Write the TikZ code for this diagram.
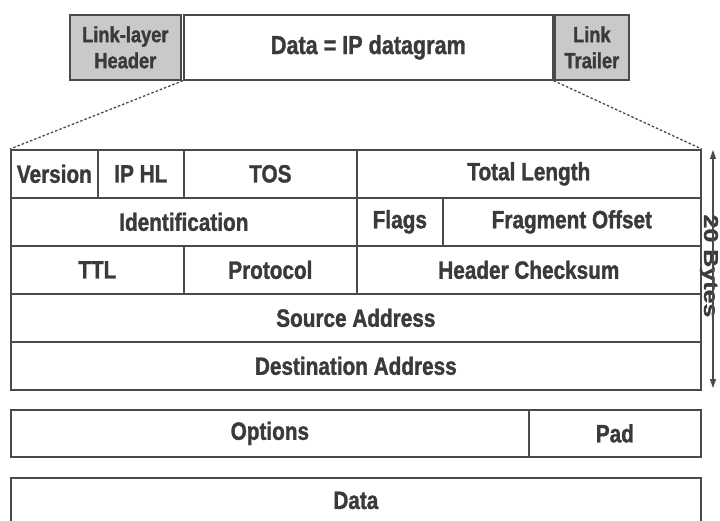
\documentclass[tikz,border=0pt]{standalone}
\usepackage{fontspec}
\setmainfont[FakeStretch=0.83, BoldFeatures={FakeBold=1.3}]{Liberation Sans}
\newfontfamily\widefont[FakeStretch=1.25, BoldFeatures={FakeBold=1.3}]{Liberation Sans}
\usetikzlibrary{arrows.meta}
\definecolor{linec}{HTML}{4A4A4A}
\definecolor{textc}{HTML}{3A3A3A}
\definecolor{shade}{HTML}{C9C9C9}
\tikzset{
  cell/.style={draw=linec, line width=1.7pt, anchor=north west, inner sep=0pt,
    text=textc, font=\fontsize{25}{27}\selectfont\bfseries, align=center},
  framebox/.style={cell, font=\fontsize{22}{26}\selectfont\bfseries},
  greybox/.style={framebox, fill=shade},
  guide/.style={draw=linec, line width=1.3pt, dash pattern=on 2.5pt off 2pt},
  span/.style={draw=linec, line width=1.2pt, -{Triangle[length=9pt,width=6pt]}},
}
\begin{document}
\begin{tikzpicture}[x=1pt, y=-1pt]
\useasboundingbox (0,0) rectangle (720,521);

% link-layer frame
\node[greybox, minimum width=111pt, minimum height=65pt] (hdr) at (69,14) {Link-layer\\Header};
\node[framebox, fill=white, minimum width=369pt, minimum height=65pt, font=\fontsize{26}{28}\selectfont\bfseries] (dg) at (183,14) {Data = IP datagram};
\node[greybox, minimum width=74pt, minimum height=65pt] (trl) at (554,14) {Link\\Trailer};

% IPv4 header, 20 bytes
\node[cell, minimum width=87pt,  minimum height=48pt] (ver)  at (10,149)  {Version};
\node[cell, minimum width=86pt,  minimum height=48pt] (ihl)  at (97,149)  {IP HL};
\node[cell, minimum width=173pt, minimum height=48pt] (tos)  at (183,149) {TOS};
\node[cell, minimum width=344pt, minimum height=48pt] (tlen) at (356,149) {Total Length};

\node[cell, minimum width=346pt, minimum height=48pt] (ident) at (10,197)  {Identification};
\node[cell, minimum width=86pt,  minimum height=48pt] (flags) at (356,197) {Flags};
\node[cell, minimum width=258pt, minimum height=48pt] (frag)  at (442,197) {Fragment Offset};

\node[cell, minimum width=173pt, minimum height=48pt] (ttl)   at (10,245)  {TTL};
\node[cell, minimum width=173pt, minimum height=48pt] (proto) at (183,245) {Protocol};
\node[cell, minimum width=344pt, minimum height=48pt] (csum)  at (356,245) {Header Checksum};

\node[cell, minimum width=690pt, minimum height=48pt] (src) at (10,293) {Source Address};
\node[cell, minimum width=690pt, minimum height=48pt] (dst) at (10,341) {Destination Address};

% optional part and payload
\node[cell, minimum width=518pt, minimum height=47pt] (opt) at (10,409)  {Options};
\node[cell, minimum width=172pt, minimum height=47pt] (pad) at (528,409) {Pad};
\node[cell, minimum width=690pt, minimum height=47pt, text depth=0pt] (data) at (10,477) {\raisebox{2pt}{Data}};

% expansion guides from the datagram to the header
\draw[guide] (dg.south west) -- (ver.north west);
\draw[guide] (dg.south east) -- (tlen.north east);

% header size marker
\coordinate (top) at (713,150);
\coordinate (bot) at (713,388);
\node[rotate=-90, text=textc, font=\widefont\fontsize{20}{22}\selectfont\bfseries, inner sep=5pt] (bytes) at (709,266) {20 Bytes};
\draw[span] (bytes.east -| top) -- (top);
\draw[span] (bytes.west -| bot) -- (bot);
\end{tikzpicture}
\end{document}
